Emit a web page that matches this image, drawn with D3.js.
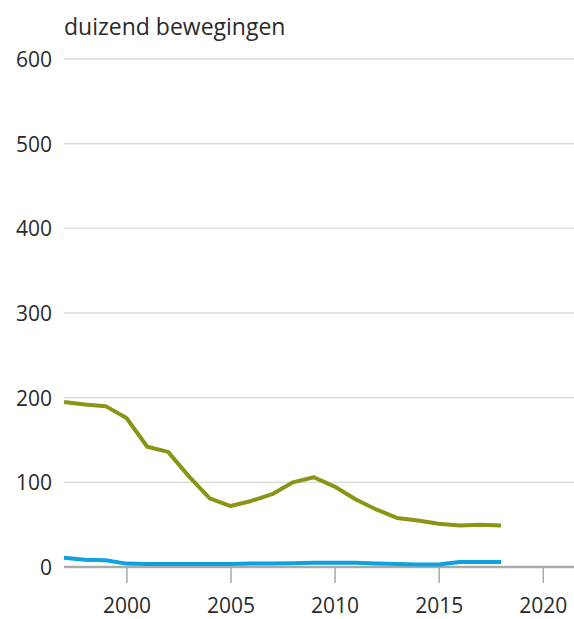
<!DOCTYPE html>
<html>
<head>
<meta charset="utf-8">
<script src="https://cdn.jsdelivr.net/npm/d3@7"></script>
<style>
  body { margin: 0; background: #fff; }
  text { font-family: "Open Sans", "Noto Sans", sans-serif; fill: #2a2a2a; }
</style>
</head>
<body>
<div id="chart"></div>
<script>
// data
var years = d3.range(1997, 2019);
var green = [195, 192, 190, 176, 142, 136, 107, 81, 72, 78, 86, 100, 106, 95, 80, 68, 58, 55, 51, 49, 50, 49];
var blue = [11, 8.5, 8, 4, 3.5, 3.5, 3.5, 3.5, 3.5, 4, 4, 4.5, 5, 5, 5, 4, 3.5, 3, 3, 6, 6, 6];
var yTicks = [0, 100, 200, 300, 400, 500, 600];
var xTicks = [2000, 2005, 2010, 2015, 2020];

// margins and svg size
var width = 574, height = 619;
var margin = { top: 59, right: 0, bottom: 52, left: 64 };

var svg = d3.select("#chart").append("svg")
  .attr("width", width)
  .attr("height", height);

var x = d3.scaleLinear()
  .domain([1997, 2021.5])
  .range([margin.left, width - margin.right]);

var y = d3.scaleLinear()
  .domain([0, 600])
  .range([height - margin.bottom, margin.top]);

// gridlines
svg.append("g")
  .selectAll("line")
  .data(yTicks.filter(function(d) { return d > 0; }))
  .enter().append("line")
  .attr("x1", margin.left)
  .attr("x2", width)
  .attr("y1", function(d) { return y(d); })
  .attr("y2", function(d) { return y(d); })
  .attr("stroke", "#ddd")
  .attr("stroke-width", 1.5);

// y axis labels
var yAxis = svg.append("g")
  .attr("transform", "translate(" + margin.left + ",0)")
  .call(d3.axisLeft(y).tickValues(yTicks).tickSize(0).tickPadding(12));
yAxis.select(".domain").remove();
yAxis.selectAll("text")
  .style("font-size", "21px")
  .attr("dy", "0.36em");

// x axis
var xAxis = svg.append("g")
  .attr("transform", "translate(0," + y(0) + ")")
  .call(d3.axisBottom(x).tickValues(xTicks).tickFormat(d3.format("d")).tickSize(16).tickPadding(15));
xAxis.select(".domain").remove();
xAxis.selectAll(".tick line")
  .attr("stroke", "#aaa")
  .attr("stroke-width", 1.5);
xAxis.selectAll("text")
  .style("font-size", "21px");

// zero line
svg.append("line")
  .attr("x1", margin.left)
  .attr("x2", width)
  .attr("y1", y(0))
  .attr("y2", y(0))
  .attr("stroke", "#aaa")
  .attr("stroke-width", 2.5);

// lines
var line = d3.line()
  .x(function(d, i) { return x(years[i]); })
  .y(function(d) { return y(d); });

svg.append("path")
  .datum(green)
  .attr("d", line)
  .attr("fill", "none")
  .attr("stroke", "#8a9516")
  .attr("stroke-width", 4)
  .attr("stroke-linejoin", "round");

svg.append("path")
  .datum(blue)
  .attr("d", line)
  .attr("fill", "none")
  .attr("stroke", "#0ea1e0")
  .attr("stroke-width", 4)
  .attr("stroke-linejoin", "round");

// unit label
svg.append("text")
  .text("duizend bewegingen")
  .attr("x", margin.left)
  .attr("y", 35)
  .style("font-size", "23px");
</script>
</body>
</html>
